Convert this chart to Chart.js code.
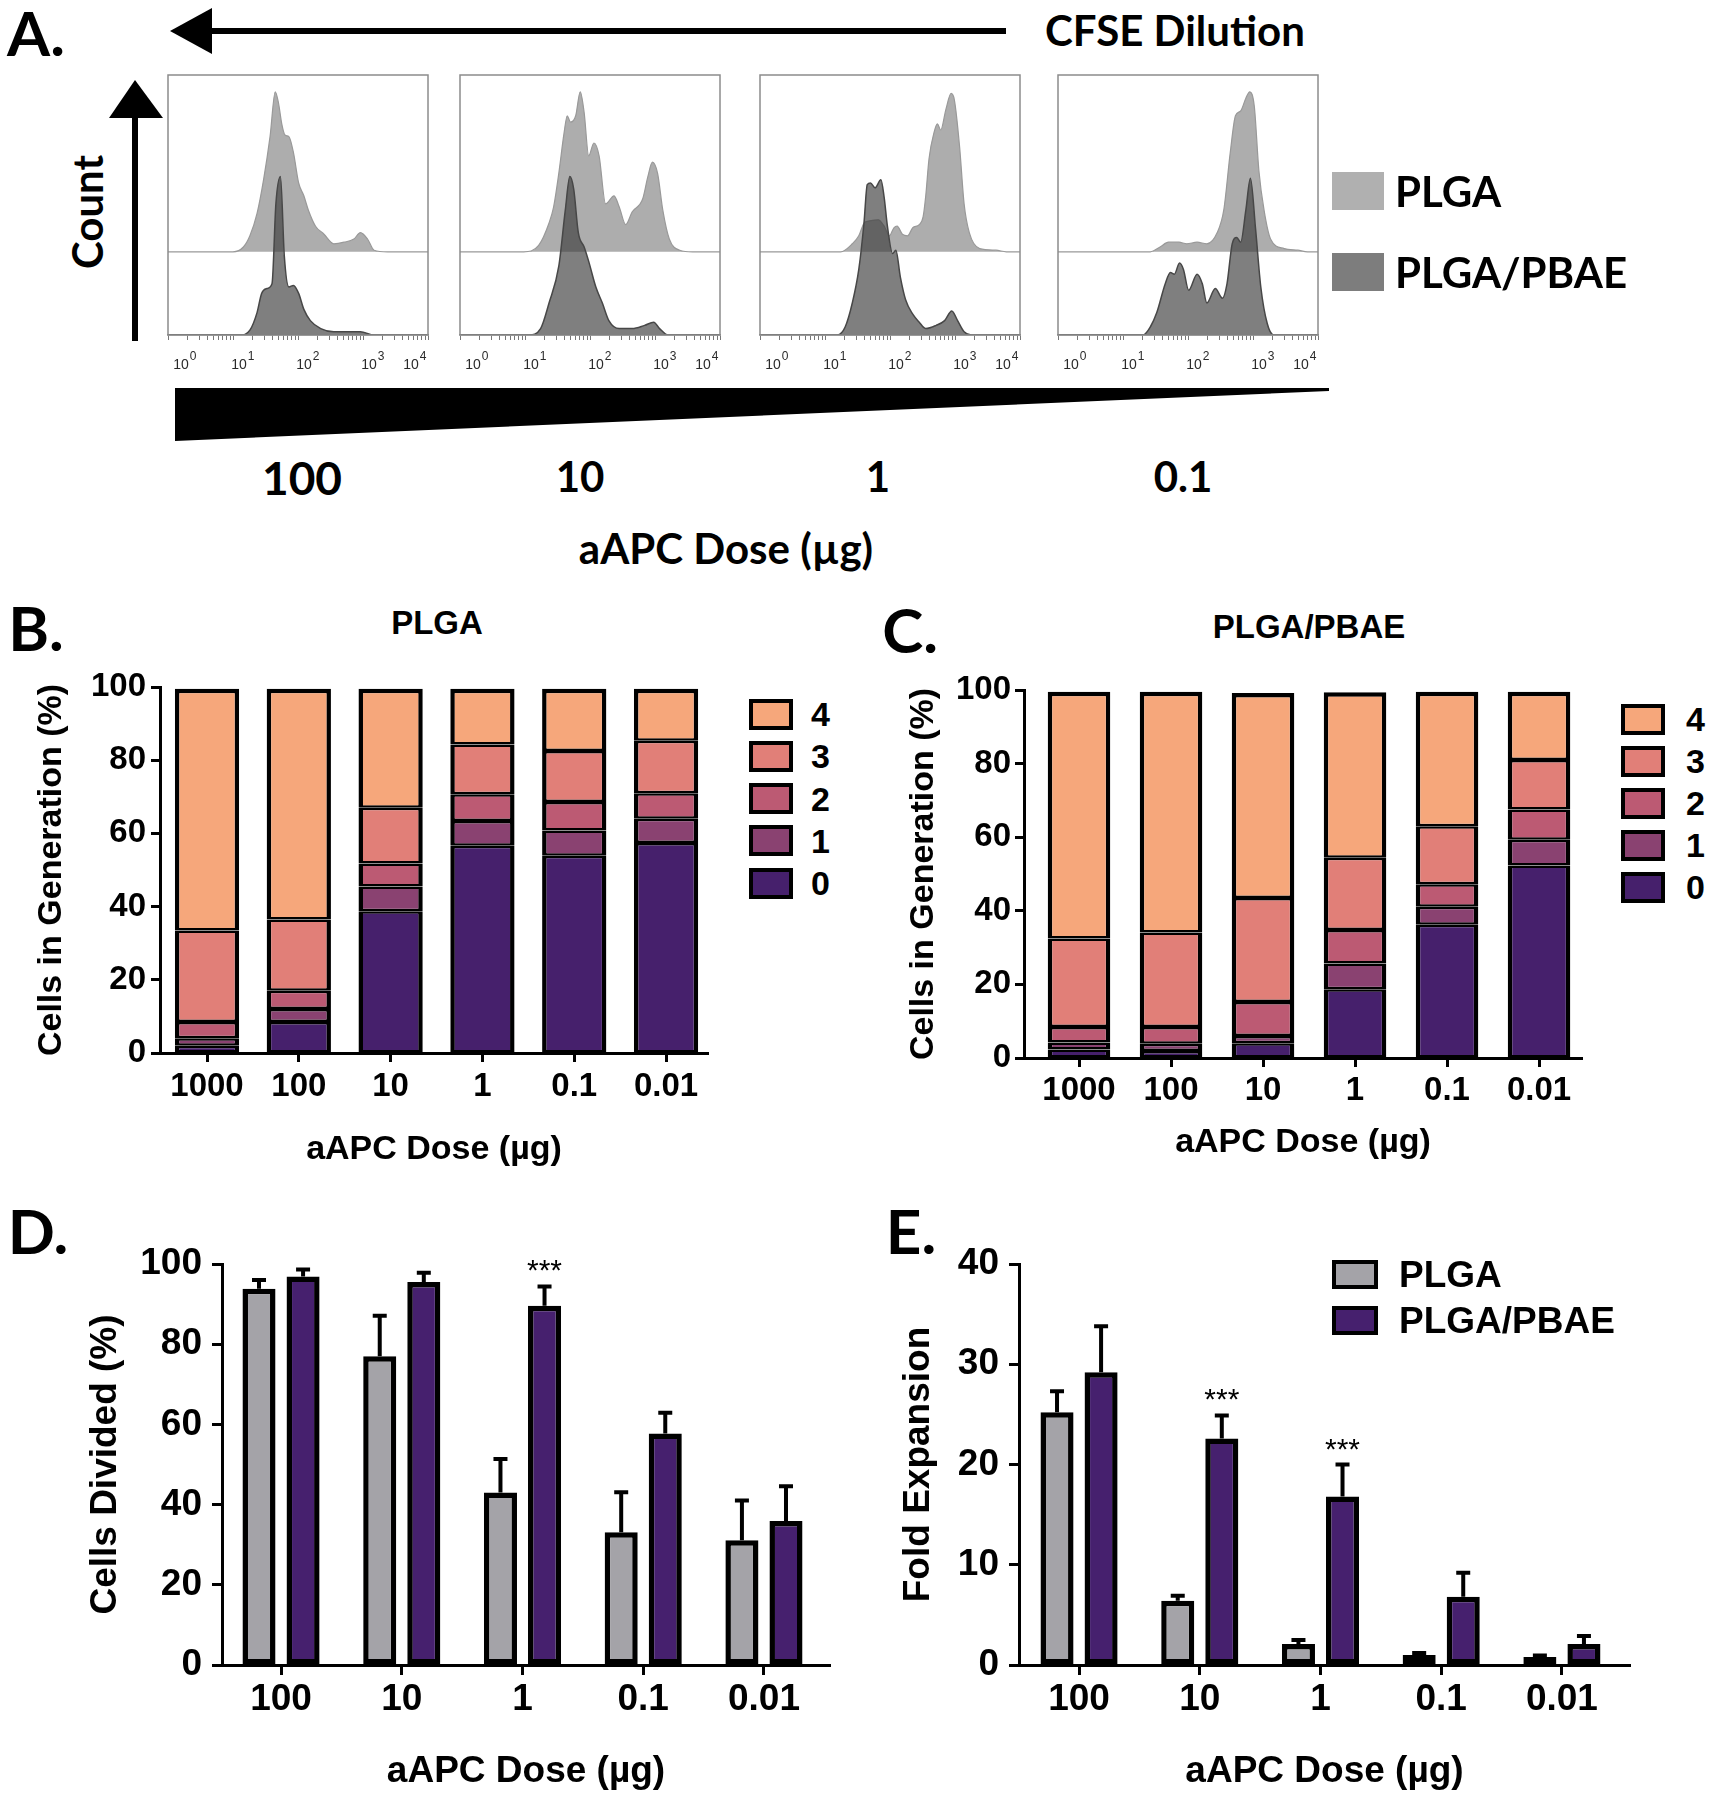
<!DOCTYPE html>
<html>
<head>
<meta charset="utf-8">
<script src="https://cdn.jsdelivr.net/npm/chart.js@4.4.1/dist/chart.umd.min.js"></script>
<style>
body { margin: 0; background: #fff; width: 1711px; height: 1800px; position: relative; overflow: hidden;
       font-family: 'Liberation Sans', Arial, sans-serif; color: #000; }
canvas { position: absolute; }
.t { position: absolute; white-space: nowrap; line-height: 1; font-weight: bold; transform: translate(-50%, -50%); }
.l { position: absolute; white-space: nowrap; line-height: 1; font-weight: bold; transform: translate(0, -50%); }
.cal { font-family: Lato, 'Open Sans', sans-serif; }
.sw { position: absolute; box-sizing: border-box; }
svg { position: absolute; left: 0; top: 0; }
</style>
</head>
<body>

<svg width="1711" height="1800">
  <!-- CFSE dilution arrow -->
  <rect x="205" y="28" width="801" height="6" fill="#000"/>
  <polygon points="170,31 212,8 212,54" fill="#000"/>
  <!-- count arrow -->
  <rect x="132" y="112" width="6" height="229" fill="#000"/>
  <polygon points="135,80 109,118 163,118" fill="#000"/>
  <!-- dose wedge -->
  <polygon points="175,388 1329,388 1329,391 175,441" fill="#000"/>
</svg>

<div class="t cal" style="left:36px;top:32px;font-size:62px">A.</div>
<div class="l cal" style="left:1045px;top:30px;font-size:42px">CFSE Dilution</div>
<div class="t cal" style="left:87px;top:212px;font-size:42px;transform:translate(-50%,-50%) rotate(-90deg)">Count</div>
<div class="t cal" style="left:302px;top:478px;font-size:46px">100</div>
<div class="t cal" style="left:580px;top:476px;font-size:42px">10</div>
<div class="t cal" style="left:878px;top:476px;font-size:42px">1</div>
<div class="t cal" style="left:1183px;top:476px;font-size:42px">0.1</div>
<div class="t cal" style="left:726px;top:548px;font-size:42px">aAPC Dose (µg)</div>

<div class="t cal" style="left:36px;top:627px;font-size:62px">B.</div>
<div class="t" style="left:437px;top:622px;font-size:33px">PLGA</div>
<div class="t cal" style="left:910px;top:629px;font-size:62px">C.</div>
<div class="t" style="left:1309px;top:626px;font-size:33px">PLGA/PBAE</div>
<div class="t cal" style="left:38px;top:1230px;font-size:62px">D.</div>
<div class="t cal" style="left:911px;top:1230px;font-size:62px">E.</div>

<canvas id="h0" width="310" height="310" style="left:143px;top:70px"></canvas>
<canvas id="h1" width="310" height="310" style="left:435px;top:70px"></canvas>
<canvas id="h2" width="310" height="310" style="left:735px;top:70px"></canvas>
<canvas id="h3" width="310" height="310" style="left:1033px;top:70px"></canvas>
<canvas id="chartB" width="740" height="600" style="left:0px;top:590px"></canvas>
<canvas id="chartC" width="760" height="600" style="left:860px;top:590px"></canvas>
<canvas id="chartD" width="860" height="610" style="left:0px;top:1190px"></canvas>
<canvas id="chartE" width="851" height="610" style="left:860px;top:1190px"></canvas>

<script>
// ---- panel A: CFSE histograms, [log10 intensity, relative count] ----
const histDoses = ['100', '10', '1', '0.1'];
const groupNames = ['PLGA', 'PLGA/PBAE'];
const decades = [0, 1, 2, 3, 4];

const plga100 = [[0,0],[1.00,0],[1.16,3],[1.26,10],[1.37,24],[1.47,45],[1.57,72],[1.65,100],[1.70,93],[1.75,80],[1.80,73],[1.86,72],[1.93,62],[2.01,43],[2.09,35],[2.16,26],[2.27,16],[2.40,11],[2.55,5],[2.71,6],[2.86,8],[2.96,12],[3.07,8],[3.17,1],[3.38,0],[4,0]];
const pbae100 = [[0,0],[1.11,0],[1.26,3],[1.37,14],[1.44,26],[1.52,29],[1.60,32],[1.66,82],[1.73,99],[1.79,49],[1.86,30],[1.93,31],[2.01,26],[2.09,16],[2.19,9],[2.35,4],[2.55,2],[2.96,2],[3.17,0],[4,0]];

const plga10 = [[0,0],[0.98,0],[1.21,4],[1.37,18],[1.44,28],[1.52,49],[1.60,74],[1.65,85],[1.70,81],[1.78,85],[1.85,100],[1.91,87],[1.98,60],[2.06,68],[2.14,60],[2.24,30],[2.37,35],[2.45,28],[2.55,17],[2.65,25],[2.81,33],[2.89,47],[2.96,56],[3.04,49],[3.12,26],[3.22,8],[3.38,1],[3.58,0],[4,0]];
const pbae10 = [[0,0],[1.06,0],[1.24,4],[1.37,20],[1.52,43],[1.62,78],[1.69,99],[1.75,91],[1.82,64],[1.91,55],[1.98,46],[2.09,30],[2.19,20],[2.29,9],[2.45,4],[2.65,4],[2.84,6],[2.98,8],[3.07,4],[3.20,0],[4,0]];

const plga1 = [[0,0],[1.24,0],[1.42,5],[1.52,10],[1.60,18],[1.65,19],[1.82,20],[1.91,16],[1.99,10],[2.06,15],[2.11,16],[2.19,11],[2.27,10],[2.35,15],[2.45,17],[2.51,22],[2.55,35],[2.60,58],[2.68,75],[2.73,80],[2.78,76],[2.86,89],[2.94,99],[2.99,95],[3.07,66],[3.14,30],[3.22,12],[3.38,2],[3.63,1],[3.79,0],[4,0]];
const pbae1 = [[0,0],[1.19,0],[1.31,5],[1.42,20],[1.52,41],[1.60,70],[1.65,94],[1.70,95],[1.77,92],[1.86,97],[1.91,86],[1.96,68],[2.04,51],[2.09,53],[2.16,36],[2.24,22],[2.35,13],[2.45,8],[2.55,4],[2.71,6],[2.84,9],[2.95,15],[3.04,9],[3.14,2],[3.25,0],[4,0]];

const plga01 = [[0,0],[1.42,0],[1.57,3],[1.70,6],[1.86,6],[1.98,5],[2.14,6],[2.29,5],[2.45,12],[2.55,26],[2.65,62],[2.73,85],[2.81,88],[2.89,96],[2.95,100],[3.02,91],[3.09,51],[3.17,26],[3.27,8],[3.48,2],[3.69,1],[3.84,0],[4,0]];
const pbae01 = [[0,0],[1.31,0],[1.42,5],[1.52,14],[1.65,32],[1.73,39],[1.79,38],[1.87,45],[1.93,41],[2.01,28],[2.14,38],[2.22,32],[2.29,20],[2.42,29],[2.53,23],[2.60,32],[2.68,57],[2.75,61],[2.81,58],[2.89,78],[2.96,98],[3.04,66],[3.12,30],[3.22,7],[3.32,0],[4,0]];

// ---- panels B, C: cells in each generation (%) ----
const stackDoses = ['1000', '100', '10', '1', '0.1', '0.01'];
const genLabels = ['0', '1', '2', '3', '4'];
const genColors = ['#46206c', '#8a4271', '#bc5a73', '#e17f78', '#f6a77b'];

const plgaGen0 = [2, 8.5, 38.7, 56.6, 53.9, 57.4];
const plgaGen1 = [2, 3.5, 6.8, 6.8, 6.9, 6.6];
const plgaGen2 = [4.5, 5, 6.3, 7.3, 7.8, 7];
const plgaGen3 = [25, 19.5, 15.2, 13.6, 13.9, 14.3];
const plgaGen4 = [66, 63, 32.5, 15.2, 17, 14.2];

const pbaeGen0 = [2.3, 1.9, 4, 18.7, 36.2, 52.3];
const pbaeGen1 = [1.9, 2, 2, 7, 4.9, 7];
const pbaeGen2 = [4.2, 4.5, 9.2, 9.1, 6.1, 8.2];
const pbaeGen3 = [24.1, 25.7, 28.3, 19.6, 15.8, 13.5];
const pbaeGen4 = [67, 65.4, 55.7, 45, 36.5, 18.5];

// ---- panels D, E ----
const barDoses = ['100', '10', '1', '0.1', '0.01'];
const plgaDivided = [93.8, 77, 43, 33.1, 31.1];
const plgaDividedSd = [2.2, 10.1, 8.4, 10, 9.9];
const pbaeDivided = [96.9, 95.5, 89.6, 57.7, 35.9];
const pbaeDividedSd = [1.7, 2.3, 4.8, 5.2, 8.7];
const dividedSig = ['', '', '***', '', ''];

const plgaFold = [25.2, 6.4, 2.1, 1.0, 0.8];
const plgaFoldSd = [2.1, 0.5, 0.4, 0.2, 0.15];
const pbaeFold = [29.2, 22.6, 16.8, 6.8, 2.1];
const pbaeFoldSd = [4.6, 2.3, 3.2, 2.4, 0.8];
const foldSig = ['', '***', '***', '', ''];

const barGray = '#a4a3a8';
const barPurple = '#46206e';

Chart.defaults.color = '#000';
Chart.defaults.font.family = "'Liberation Sans', 'DejaVu Sans', Arial, sans-serif";

const PLGA_LIFT = 52;

const framePlugin = {
    id: 'frame',
    afterDraw(chart) {
        const {ctx, chartArea: a} = chart;
        ctx.save();
        ctx.strokeStyle = '#8c8c8c';
        ctx.lineWidth = 1.5;
        ctx.strokeRect(a.left, a.top, a.right - a.left, a.bottom - a.top);
        ctx.restore();
    }
};

// "10" with a raised exponent under each decade tick
const decadeLabels = {
    id: 'decadeLabels',
    afterDraw(chart) {
        const {ctx} = chart;
        const x = chart.scales.x;
        const y0 = x.top + 30;
        ctx.save();
        ctx.fillStyle = '#2a2a2a';
        ctx.textAlign = 'center';
        ctx.textBaseline = 'middle';
        decades.forEach(n => {
            const px = x.getPixelForValue(n);
            const shift = n === 0 ? 13 : (n === decades.length - 1 ? -17 : 6);
            ctx.font = "14px 'Liberation Sans'";
            ctx.fillText('10', px + shift, y0);
            ctx.font = "12px 'Liberation Sans'";
            ctx.fillText(String(n), px + shift + 12, y0 - 8);
        });
        ctx.restore();
    }
};

function histChart(id, plga, pbae) {
    new Chart(document.getElementById(id), {
        type: 'line',
        data: {
            datasets: [{
                label: groupNames[1],
                data: pbae.map(p => ({x: p[0], y: p[1]})),
                fill: 'origin',
                backgroundColor: 'rgba(60,60,60,0.66)',
                borderColor: '#474747',
                borderWidth: 1.5,
                pointRadius: 0,
                cubicInterpolationMode: 'monotone',
            }, {
                label: groupNames[0],
                data: plga.map(p => ({x: p[0], y: p[1] + PLGA_LIFT})),
                fill: {value: PLGA_LIFT},
                backgroundColor: '#adadad',
                borderColor: '#999999',
                borderWidth: 1.2,
                pointRadius: 0,
                cubicInterpolationMode: 'monotone',
            }]
        },
        options: {
            responsive: false,
            animation: false,
            layout: {padding: {left: 25, right: 25, top: 5, bottom: 0}},
            plugins: {legend: {display: false}, tooltip: {enabled: false}},
            scales: {
                y: {display: false, min: 0, max: 162.5},
                x: {
                    type: 'linear', min: 0, max: 4,
                    afterFit: s => { s.height = 45; },
                    afterBuildTicks: ax => {
                        const t = [];
                        decades.forEach(n => {
                            t.push({value: n});
                            if (n < 4) for (let k = 2; k <= 9; k++) t.push({value: n + Math.log10(k)});
                        });
                        ax.ticks = t;
                    },
                    grid: {drawOnChartArea: false, tickLength: 5, color: '#777'},
                    border: {color: '#8c8c8c', width: 1.5},
                    ticks: {display: false, autoSkip: false}
                }
            }
        },
        plugins: [framePlugin, decadeLabels]
    });
}

histChart('h0', plga100, pbae100);
histChart('h1', plga10, pbae10);
histChart('h2', plga1, pbae1);
histChart('h3', plga01, pbae01);

const errorBars = {
    id: 'errorBars',
    afterDatasetsDraw(chart) {
        const {ctx} = chart;
        const y = chart.scales.y;
        chart.data.datasets.forEach((ds, di) => {
            if (!ds.sd) return;
            chart.getDatasetMeta(di).data.forEach((bar, i) => {
                const top = y.getPixelForValue(ds.data[i].y + ds.sd[i]);
                ctx.save();
                ctx.strokeStyle = '#000';
                ctx.lineWidth = 4;
                ctx.beginPath();
                ctx.moveTo(bar.x, bar.y);
                ctx.lineTo(bar.x, top);
                ctx.moveTo(bar.x - 7, top);
                ctx.lineTo(bar.x + 7, top);
                ctx.stroke();
                if (ds.sig && ds.sig[i]) {
                    ctx.fillStyle = '#000';
                    ctx.font = "30px 'Liberation Sans'";
                    ctx.textAlign = 'center';
                    ctx.textBaseline = 'alphabetic';
                    ctx.fillText(ds.sig[i], bar.x, top - 6);
                }
                ctx.restore();
            });
        });
    }
};

function barOptions(c) {
    return {
        responsive: false,
        animation: false,
        layout: {padding: c.pad},
        plugins: {legend: {display: false}, tooltip: {enabled: false}},
        datasets: {bar: {categoryPercentage: c.cat, barPercentage: c.bar}},
        scales: {
            x: {
                type: 'linear', offset: false, stacked: c.stacked, min: c.xMin, max: c.xMax,
                afterBuildTicks: ax => { ax.ticks = c.labels.map((l, i) => ({value: i})); },
                afterFit: s => { s.height = c.xH; },
                grid: {offset: false, drawOnChartArea: false, tickLength: c.tl, tickWidth: 3, tickColor: '#000'},
                border: {color: '#000', width: 3},
                ticks: {
                    autoSkip: false, maxRotation: 0, padding: c.xTickPad,
                    font: {size: c.tickSize, weight: 'bold'},
                    callback: v => c.labels[v]
                },
                title: {
                    display: true, text: 'aAPC Dose (\u00b5g)',
                    font: {size: c.titleSize, weight: 'bold'},
                    padding: {top: 0, bottom: c.xTitlePad}
                }
            },
            y: {
                stacked: c.stacked, min: 0, max: c.yMax,
                afterFit: s => { s.width = c.yW; },
                grid: {drawOnChartArea: false, tickLength: c.tl, tickWidth: 3, tickColor: '#000'},
                border: {color: '#000', width: 3},
                ticks: {stepSize: c.step, padding: c.yTickPad, font: {size: c.tickSize, weight: 'bold'}},
                title: {
                    display: true, text: c.yTitle,
                    font: {size: c.titleSize, weight: 'bold'},
                    padding: {top: c.yTitlePad, bottom: 0}
                }
            }
        }
    };
}

function stackSets(gens) {
    const last = gens.length - 1;
    return gens.map((vals, k) => ({
        label: genLabels[k],
        data: vals.map((v, i) => ({x: i, y: v})),
        backgroundColor: genColors[k],
        borderColor: '#000',
        borderWidth: {left: 4.5, right: 4.5, top: k === last ? 4.5 : 2.5, bottom: 2.5},
        borderSkipped: false,
    }));
}

new Chart(document.getElementById('chartB'), {
    type: 'bar',
    data: {datasets: stackSets([plgaGen0, plgaGen1, plgaGen2, plgaGen3, plgaGen4])},
    options: barOptions({
        pad: {top: 97, right: 32, bottom: 0, left: 0}, stacked: true,
        xMin: -0.512, xMax: 5.457, cat: 1, bar: 0.7, labels: stackDoses,
        xH: 137, yW: 160, tl: 9, xTickPad: 5, yTickPad: 5,
        tickSize: 33, titleSize: 34, xTitlePad: 19.6, yTitlePad: 31.6,
        yMax: 100, step: 20, yTitle: 'Cells in Generation (%)'
    })
});

new Chart(document.getElementById('chartC'), {
    type: 'bar',
    data: {datasets: stackSets([pbaeGen0, pbaeGen1, pbaeGen2, pbaeGen3, pbaeGen4])},
    options: barOptions({
        pad: {top: 100, right: 38, bottom: 0, left: 0}, stacked: true,
        xMin: -0.598, xMax: 5.467, cat: 1, bar: 0.68, labels: stackDoses,
        xH: 132, yW: 164, tl: 9, xTickPad: 4, yTickPad: 4,
        tickSize: 33, titleSize: 34, xTitlePad: 26.6, yTitlePad: 43.6,
        yMax: 100, step: 20, yTitle: 'Cells in Generation (%)'
    })
});

function pairSets(plga, plgaSd, pbae, pbaeSd, sig) {
    return [{
        label: groupNames[0],
        data: plga.map((v, i) => ({x: i, y: v})),
        sd: plgaSd,
        backgroundColor: barGray, borderColor: '#000', borderWidth: 5.5, borderSkipped: false,
    }, {
        label: groupNames[1],
        data: pbae.map((v, i) => ({x: i, y: v})),
        sd: pbaeSd, sig: sig,
        backgroundColor: barPurple, borderColor: '#000', borderWidth: 5.5, borderSkipped: false,
    }];
}

new Chart(document.getElementById('chartD'), {
    type: 'bar',
    data: {datasets: pairSets(plgaDivided, plgaDividedSd, pbaeDivided, pbaeDividedSd, dividedSig)},
    options: barOptions({
        pad: {top: 74, right: 30, bottom: 0, left: 0}, stacked: false,
        xMin: -0.489, xMax: 4.547, cat: 0.73, bar: 0.75, labels: barDoses,
        xH: 135, yW: 222, tl: 10, xTickPad: 3, yTickPad: 10,
        tickSize: 37, titleSize: 37, xTitlePad: 5.8, yTitlePad: 83.8,
        yMax: 100, step: 20, yTitle: 'Cells Divided (%)'
    }),
    plugins: [errorBars]
});

new Chart(document.getElementById('chartE'), {
    type: 'bar',
    data: {datasets: pairSets(plgaFold, plgaFoldSd, pbaeFold, pbaeFoldSd, foldSig)},
    options: barOptions({
        pad: {top: 74, right: 81, bottom: 0, left: 0}, stacked: false,
        xMin: -0.4975, xMax: 4.564, cat: 0.73, bar: 0.75, labels: barDoses,
        xH: 135, yW: 159, tl: 10, xTickPad: 3, yTickPad: 10,
        tickSize: 37, titleSize: 37, xTitlePad: 5.8, yTitlePad: 36.8,
        yMax: 40, step: 10, yTitle: 'Fold Expansion'
    }),
    plugins: [errorBars]
});

// ---- HTML legends ----
function legend(items, sq, textX, cls, fontSize, border) {
    items.forEach(it => {
        const s = document.createElement('div');
        s.className = 'sw';
        s.style.cssText = `left:${sq.x}px;top:${it.y - sq.h / 2}px;width:${sq.w}px;height:${sq.h}px;background:${it.color};` +
            (border ? 'border:4px solid #000;' : '');
        document.body.appendChild(s);
        const t = document.createElement('div');
        t.className = 'l ' + cls;
        t.style.cssText = `left:${textX}px;top:${it.y}px;font-size:${fontSize}px`;
        t.textContent = it.label;
        document.body.appendChild(t);
    });
}

legend([{label: groupNames[0], color: '#b0b0b0', y: 191}, {label: groupNames[1], color: '#7d7d7d', y: 272}],
    {x: 1332, w: 52, h: 38}, 1395, 'cal', 42, false);

const genOrder = [4, 3, 2, 1, 0];
legend(genOrder.map((g, j) => ({label: genLabels[g], color: genColors[g], y: 714 + j * 42.3})),
    {x: 749, w: 44, h: 31}, 811, '', 34, true);
legend(genOrder.map((g, j) => ({label: genLabels[g], color: genColors[g], y: 719 + j * 42})),
    {x: 1621, w: 44, h: 31}, 1686, '', 34, true);

legend([{label: groupNames[0], color: barGray, y: 1274}, {label: groupNames[1], color: barPurple, y: 1320}],
    {x: 1332, w: 46, h: 29}, 1399, '', 37, true);
</script>
</body>
</html>
